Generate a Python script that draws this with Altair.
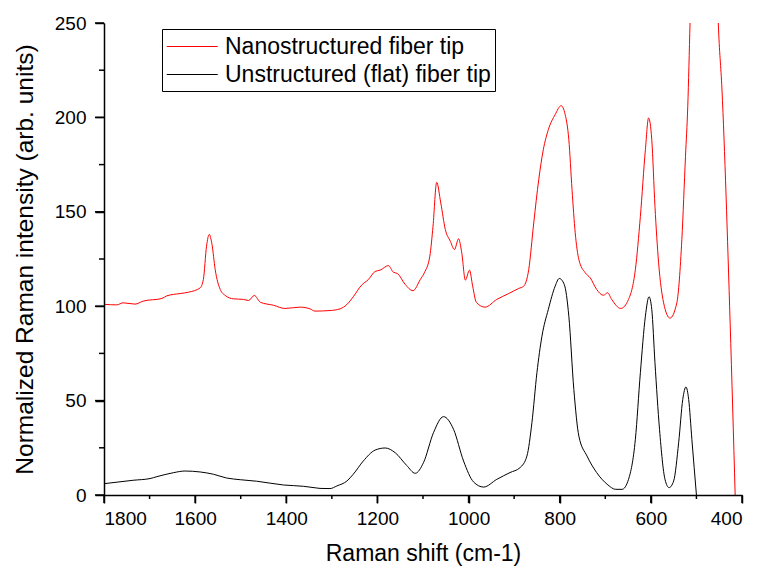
import altair as alt
import pandas as pd

# ---- data ----
series_names = ["Nanostructured fiber tip", "Unstructured (flat) fiber tip"]
series_colors = ["#ff0000", "#000000"]

red_shift = [1800, 1772, 1758, 1732, 1714, 1673, 1662, 1633, 1615, 1589, 1582, 1575, 1569, 1563,
             1556, 1545, 1534, 1516, 1494, 1483, 1470, 1457, 1428, 1403, 1370, 1348, 1337, 1304,
             1282, 1267, 1253, 1235, 1220, 1205, 1194, 1176, 1165, 1156, 1139, 1122, 1106, 1097,
             1085, 1078, 1070, 1061, 1051, 1040, 1031, 1022, 1015, 1007, 998, 991, 983, 964, 938,
             912, 890, 879, 868, 857, 846, 836, 825, 810, 797, 788, 780, 773, 766, 758, 744, 733,
             719, 704, 695, 686, 666, 649, 634, 623, 612, 605, 598, 591, 583, 572, 558, 543, 532,
             524, 519, 514, 505, 495, 483, 470, 460, 452, 444, 426, 415]
red_int = [101.0, 100.7, 101.8, 101.1, 102.7, 104.1, 105.5, 106.7, 107.4, 109.7, 114.1, 131.8, 138.0, 132.7,
           119.4, 108.9, 105.7, 103.9, 103.6, 103.0, 105.7, 102.1, 100.5, 98.8, 99.5, 98.6, 97.4, 97.7,
           98.6, 100.9, 105.0, 111.1, 114.1, 118.4, 119.1, 121.5, 118.0, 117.3, 111.5, 108.2, 114.1, 117.7,
           126.5, 142.4, 165.6, 154.7, 140.6, 134.4, 130.0, 135.7, 128.3, 113.8, 119.1, 110.6, 102.1, 99.5, 103.6,
           106.7, 109.4, 110.6, 119.4, 144.1, 167.1, 182.9, 193.5, 201.5, 206.2, 201.5, 188.2, 161.8, 138.9, 124.7, 117.7, 115.0,
           108.9, 105.8, 107.1, 103.6, 98.8, 103.6, 119.4, 147.6, 182.9, 199.7, 188.2, 152.9, 123.0, 101.8, 93.7, 101.8, 135.3,
           179.4, 205.9, 250.0, 330.0, 400.0, 430.0, 400.0, 320.0, 250.0, 215.0, 91.0, 0.0]

black_shift = [1800, 1736, 1699, 1684, 1648, 1622, 1589, 1560, 1531, 1501, 1465, 1406, 1362, 1333,
               1326, 1304, 1289, 1267, 1253, 1231, 1205, 1183, 1161, 1136, 1117, 1099, 1077, 1055,
               1033, 1011, 989, 967, 938, 909, 887, 872, 861, 850, 839, 825, 810, 801, 790, 780,
               769, 758, 740, 719, 696, 677, 663, 649, 634, 623, 612, 604, 598, 591, 581, 569,
               560, 550, 539, 530, 523, 517, 510, 500]
black_int = [6.0, 7.8, 8.7, 9.7, 11.8, 12.7, 12.2, 11.0, 9.0, 8.1, 7.3, 5.3, 4.6, 3.7,
             3.5, 3.4, 4.8, 7.4, 11.0, 18.0, 23.8, 24.9, 22.4, 15.7, 11.5, 17.1, 33.0, 41.5,
             34.8, 18.0, 6.9, 4.2, 8.3, 11.9, 14.5, 20.6, 38.3, 64.8, 84.1, 98.3, 110.6, 114.7, 111.5, 94.7,
             55.9, 31.2, 20.6, 11.9, 5.7, 3.0, 3.0, 8.3, 29.5, 64.8, 94.7, 105.0, 98.3, 70.1, 34.8, 8.3,
             3.9, 7.4, 27.7, 50.6, 57.2, 50.6, 29.5, 0.0]

x_major = list(range(400, 1801, 200))
x_minor = list(range(500, 1801, 200))
y_major = list(range(0, 251, 50))
y_minor = list(range(25, 251, 50))

df = pd.concat([
    pd.DataFrame({"shift": red_shift, "intensity": red_int, "series": series_names[0]}),
    pd.DataFrame({"shift": black_shift, "intensity": black_int, "series": series_names[1]}),
], ignore_index=True)

FONT = "Liberation Sans"
W, H = 638, 472

x_scale = alt.Scale(domain=[400, 1800], reverse=True, nice=False, zero=False)
y_scale = alt.Scale(domain=[0, 250], nice=False, zero=False)

main = alt.Chart(df).mark_line(clip=True, strokeWidth=1, interpolate="monotone").encode(
    x=alt.X("shift:Q", scale=x_scale,
            axis=alt.Axis(orient="bottom", title="Raman shift (cm-1)", values=x_major, format="d",
                          ticks=True, tickSize=8, tickColor="#000000", tickWidth=1.5,
                          labelPadding=6, labelOverlap=False, grid=False, zindex=1,
                          titleFontSize=23, titleY=58, titleBaseline="middle")),
    y=alt.Y("intensity:Q", scale=y_scale,
            axis=alt.Axis(orient="left", title="Normalized Raman intensity (arb. units)",
                          values=y_major, format="d",
                          ticks=True, tickSize=9, tickColor="#000000", tickWidth=1.5,
                          labelPadding=9, labelOverlap=False, grid=False, zindex=1,
                          titleFontSize=24.5, titleX=-79, titleY=236, titleBaseline="middle")),
    color=alt.Color("series:N",
                    scale=alt.Scale(domain=series_names, range=series_colors),
                    legend=alt.Legend(title=None, orient="none", legendX=58, legendY=6,
                                      strokeColor="black", padding=4,
                                      symbolType="M-1,0H3", symbolSize=650, symbolStrokeWidth=1,
                                      labelFontSize=23, labelOffset=32, labelLimit=0, rowPadding=2,
                                      labelFont=FONT, labelColor="black")),
    detail="series:N",
)

# tick marks drawn at the axis values through the shared scales
def x_ticks(vals, length):
    return alt.Chart(pd.DataFrame({"v": vals})).mark_rule(color="black", strokeWidth=1.5).encode(
        x=alt.X("v:Q", scale=x_scale, axis=None),
        y=alt.value(H), y2=alt.value(H + length))

def y_ticks(vals, length):
    return alt.Chart(pd.DataFrame({"v": vals})).mark_rule(color="black", strokeWidth=1.5).encode(
        y=alt.Y("v:Q", scale=y_scale, axis=None),
        x=alt.value(0), x2=alt.value(-length))

chart = alt.layer(
    main, x_ticks(x_major, 8), x_ticks(x_minor, 4), y_ticks(y_major, 9), y_ticks(y_minor, 5)
).resolve_axis(
    x="independent", y="independent"
).properties(
    width=W, height=H,
    padding={"left": 104, "top": 23, "right": 18, "bottom": 74},
    autosize=alt.AutoSizeParams(type="none"),
).configure_view(
    strokeWidth=0
).configure_axis(
    labelFont=FONT, titleFont=FONT, labelFontSize=19,
    labelColor="black", titleColor="black", titleFontWeight="normal",
    domainColor="black", domainWidth=1.5,
)

chart.save("out.html", embed_options={"renderer": "svg", "actions": False})
